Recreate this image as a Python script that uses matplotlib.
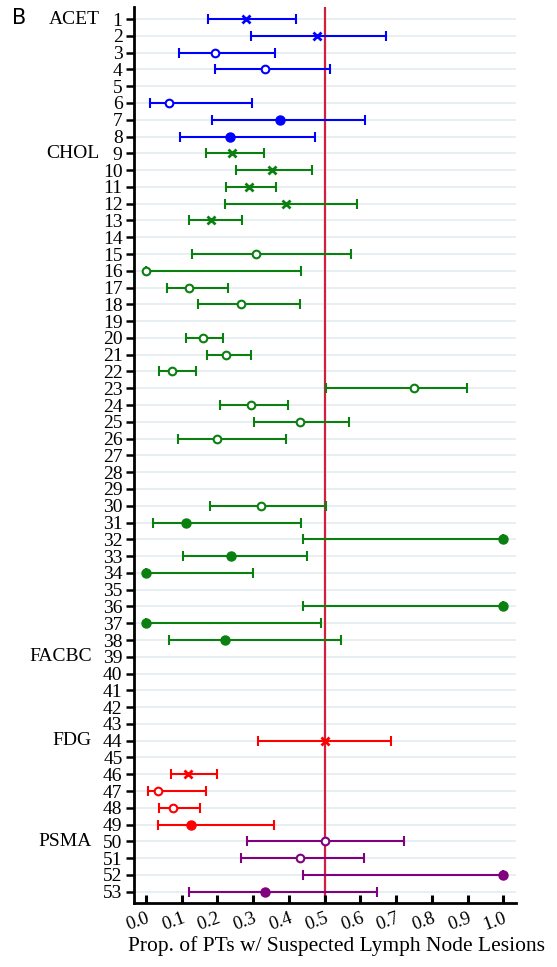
import matplotlib
matplotlib.use('Agg')
import matplotlib.pyplot as plt
import matplotlib.transforms as mtransforms
import numpy as np

# per-study proportion estimates with lower/upper CI bounds
study = [1, 2, 3, 4, 6, 7, 8,
         9, 10, 11, 12, 13, 15, 16, 17, 18, 20, 21, 22, 23, 24, 25, 26,
         30, 31, 32, 33, 34, 36, 37, 38,
         44, 46, 47, 48, 49,
         50, 51, 52, 53]
estimate = [0.279, 0.478, 0.193, 0.333, 0.066, 0.375, 0.235,
            0.240, 0.353, 0.289, 0.391, 0.183, 0.307, 0.0, 0.120, 0.265, 0.159, 0.224, 0.072, 0.749, 0.293, 0.430, 0.200,
            0.322, 0.112, 1.0, 0.237, 0.0, 1.0, 0.0, 0.222,
            0.5, 0.119, 0.033, 0.076, 0.125,
            0.5, 0.430, 1.0, 0.333]
lower = [0.174, 0.293, 0.092, 0.193, 0.011, 0.185, 0.096,
         0.169, 0.252, 0.225, 0.222, 0.121, 0.128, 0.0, 0.060, 0.147, 0.112, 0.170, 0.038, 0.504, 0.207, 0.302, 0.089,
         0.180, 0.020, 0.439, 0.104, 0.0, 0.439, 0.0, 0.064,
         0.315, 0.070, 0.005, 0.038, 0.035,
         0.283, 0.265, 0.439, 0.121]
upper = [0.419, 0.671, 0.361, 0.514, 0.298, 0.614, 0.473,
         0.331, 0.466, 0.363, 0.591, 0.270, 0.575, 0.434, 0.230, 0.432, 0.215, 0.293, 0.139, 0.899, 0.398, 0.567, 0.392,
         0.505, 0.434, 1.0, 0.450, 0.299, 1.0, 0.490, 0.547,
         0.685, 0.200, 0.167, 0.152, 0.359,
         0.721, 0.609, 1.0, 0.647]
tracer = (['ACET'] * 7 + ['CHOL'] * 24 + ['FDG'] * 5 + ['PSMA'] * 4)
kind = ['x', 'x', 'o', 'o', 'o', 'f', 'f',
        'x', 'x', 'x', 'x', 'x', 'o', 'o', 'o', 'o', 'o', 'o', 'o', 'o', 'o', 'o', 'o',
        'o', 'f', 'f', 'f', 'f', 'f', 'f', 'f',
        'x', 'x', 'o', 'o', 'f',
        'o', 'o', 'f', 'f']

group_names = ['ACET', 'CHOL', 'FACBC', 'FDG', 'PSMA']
group_rows = [1, 9, 39, 44, 50]
colors = {'ACET': '#0000ff', 'CHOL': '#0a8010', 'FDG': '#ff0000', 'PSMA': '#800080'}
n_rows = 53

plt.rcParams['font.family'] = ['Liberation Serif', 'DejaVu Serif']

fig = plt.figure(figsize=(5.57, 9.67), dpi=100)
ax = fig.add_axes([0.240, 0.0662, 0.686, 0.9266])

for y in range(1, n_rows + 1):
  ax.axhline(y, color='#e6eef2', lw=1.3, zorder=0)

ax.axvline(0.5, color='#d21f3c', lw=1.6, zorder=1)

for s, e, lo, hi, t, k in zip(study, estimate, lower, upper, tracer, kind):
  c = colors[t]
  ax.errorbar([e], [s], xerr=[[e - lo], [hi - e]], fmt='none', ecolor=c,
              elinewidth=1.5, capsize=3.5, capthick=1.5, zorder=2)
  if k == 'x':
    ax.plot(e, s, marker='x', color=c, ms=5.5, mew=2, zorder=3)
  elif k == 'o':
    ax.plot(e, s, marker='o', mfc='white', mec=c, ms=5.5, mew=1.5, zorder=3)
  else:
    ax.plot(e, s, marker='o', color=c, ms=6.5, zorder=3)

ax.set_ylim(n_rows + 0.67, 0.28)
ax.set_xlim(-0.034, 1.035)
ax.set_yticks(range(1, n_rows + 1))
ax.set_yticklabels([str(i) for i in range(1, n_rows + 1)], fontsize=14)
ax.set_xticks(np.round(np.arange(0, 1.01, 0.1), 1))
ax.set_xticklabels([f"{v:.1f}" for v in np.arange(0, 1.01, 0.1)], fontsize=13.5,
                   rotation=20, ha='right', va='top', rotation_mode='anchor')
ax.tick_params(axis='y', direction='out', length=6, width=1.8, pad=2)
ax.tick_params(axis='x', direction='in', length=6, width=2.2, pad=5)

for side in ['top', 'right']:
  ax.spines[side].set_visible(False)
ax.spines['left'].set_linewidth(2)
ax.spines['bottom'].set_linewidth(2)

# tracer group labels sit just left of the study numbers
trans = mtransforms.blended_transform_factory(ax.transAxes, ax.transData)
for name, row in zip(group_names, group_rows):
  off = -24.3 if row < 10 else -30.0
  ax.annotate(name, xy=(0, row), xycoords=trans, xytext=(off, 0),
              textcoords='offset points', ha='right', va='center', fontsize=14)

ax.set_xlabel('Prop. of PTs w/ Suspected Lymph Node Lesions', fontsize=15.5)
ax.xaxis.set_label_coords(0.532, -0.037)
fig.text(0.022, 0.992, 'B', fontsize=15, family='DejaVu Sans', ha='left', va='top')

fig.savefig('out.png', dpi=100)
